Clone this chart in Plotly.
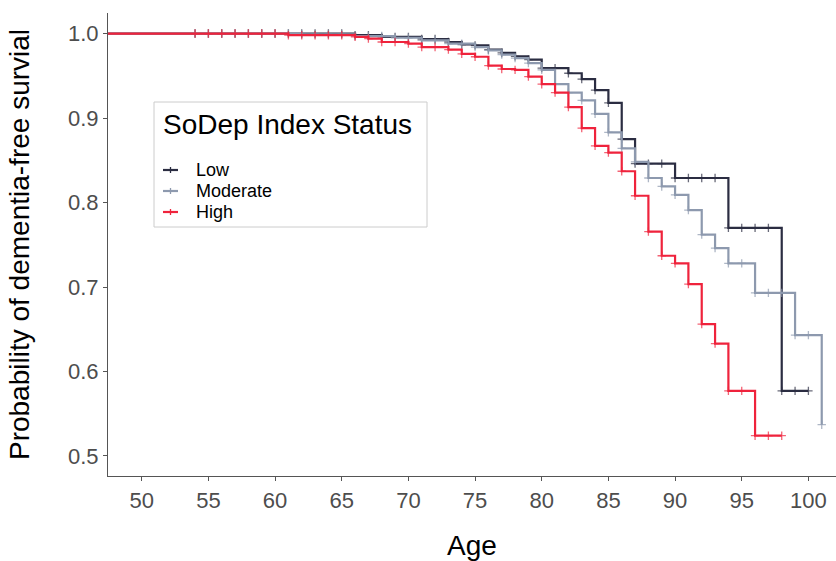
import plotly.graph_objects as go
import numpy as np

# ---- data ----
groups = ["Low", "Moderate", "High"]
colors = ["#2B2D42", "#8D99AE", "#EF233C"]
legend_title = "SoDep Index Status"

low_ages = [47, 66, 68, 71, 73, 74, 75, 76, 77, 78, 79, 80, 82, 83, 84, 85, 86, 87, 90, 94, 98]
low_surv = [1.0, 0.998, 0.996, 0.9935, 0.990, 0.987, 0.986, 0.981, 0.977, 0.973, 0.969, 0.959,
            0.953, 0.946, 0.933, 0.918, 0.875, 0.846, 0.829, 0.770, 0.577]
low_end = 100

mod_ages = [47, 62, 66, 69, 71, 73, 75, 76, 77, 78, 79, 80, 81, 82, 83, 84, 85, 86, 87, 88, 89,
            90, 91, 92, 93, 94, 96, 99, 101]
mod_surv = [1.0, 0.999, 0.997, 0.995, 0.992, 0.988, 0.984, 0.980, 0.975, 0.971, 0.965, 0.957,
            0.940, 0.930, 0.921, 0.905, 0.883, 0.864, 0.848, 0.829, 0.819, 0.809, 0.791, 0.762,
            0.746, 0.728, 0.693, 0.643, 0.537]
mod_end = 101

high_ages = [47, 61, 66, 67, 68, 70, 71, 73, 74, 75, 76, 77, 78, 79, 80, 81, 82, 83, 84, 85, 86,
             87, 88, 89, 90, 91, 92, 93, 94, 96]
high_surv = [1.0, 0.998, 0.996, 0.994, 0.990, 0.988, 0.984, 0.981, 0.976, 0.9725, 0.962, 0.958,
             0.957, 0.949, 0.940, 0.930, 0.913, 0.888, 0.867, 0.859, 0.837, 0.808, 0.7655, 0.737,
             0.728, 0.7035, 0.656, 0.633, 0.577, 0.524]
high_end = 98

censor_start = 54

series = [(low_ages, low_surv, low_end), (mod_ages, mod_surv, mod_end), (high_ages, high_surv, high_end)]

x_ticks = [50, 55, 60, 65, 70, 75, 80, 85, 90, 95, 100]
y_ticks = [0.5, 0.6, 0.7, 0.8, 0.9, 1.0]

FONT = "Liberation Sans, Arial, sans-serif"

fig = go.Figure()
for name, col, (ages, surv, end) in zip(groups, colors, series):
    ages = np.array(ages, dtype=float)
    surv = np.array(surv, dtype=float)
    censor = np.arange(censor_start, end + 1)
    t = np.unique(np.concatenate([ages, censor]))
    idx = np.searchsorted(ages, t, side="right") - 1
    s = surv[idx]
    sizes = [6 if (tt >= censor_start and float(tt).is_integer()) else 0 for tt in t]
    fig.add_trace(go.Scatter(
        x=t, y=s, name=name, mode="lines+markers", cliponaxis=False, showlegend=False,
        line=dict(color=col, width=2.2, shape="hv"),
        marker=dict(symbol="cross-thin", size=sizes, color=col,
                    line=dict(color=col, width=1.3)),
    ))

# ---- legend box (drawn in paper coordinates) ----
L, T, PW, PH = 108, 13, 728, 463          # plot area in pixels
px = lambda v: (v - L) / PW
py = lambda v: 1 - (v - T) / PH

shapes = [dict(type="rect", xref="paper", yref="paper",
               x0=px(154), x1=px(427), y0=py(227), y1=py(102),
               line=dict(color="#CCCCCC", width=1), fillcolor="white", layer="above")]
annotations = [dict(text=legend_title, xref="paper", yref="paper", x=px(161), y=py(125),
                    xanchor="left", yanchor="middle", showarrow=False,
                    font=dict(size=28, color="black", family=FONT))]
item_y = [170, 191, 212]
for name, col, iy in zip(groups, colors, item_y):
    shapes.append(dict(type="line", xref="paper", yref="paper", x0=px(163), x1=px(178),
                       y0=py(iy), y1=py(iy), line=dict(color=col, width=2.2), layer="above"))
    shapes.append(dict(type="line", xref="paper", yref="paper", x0=px(170.5), x1=px(170.5),
                       y0=py(iy + 3), y1=py(iy - 3), line=dict(color=col, width=1.3), layer="above"))
    annotations.append(dict(text=name, xref="paper", yref="paper", x=px(194), y=py(iy),
                            xanchor="left", yanchor="middle", showarrow=False,
                            font=dict(size=18, color="black", family=FONT)))

fig.update_layout(
    width=836, height=561,
    margin=dict(l=108, r=0, t=13, b=85),
    paper_bgcolor="white", plot_bgcolor="white",
    font=dict(family=FONT, color="black"),
    showlegend=False,
    shapes=shapes, annotations=annotations,
    xaxis=dict(
        range=[47.47, 102.07], tickvals=x_ticks, ticktext=[str(v) for v in x_ticks],
        showgrid=False, zeroline=False, showline=True, linecolor="#555555", linewidth=1.2,
        ticks="outside", ticklen=4, tickcolor="#555555",
        tickfont=dict(size=22, color="#4D4D4D"),
        title=dict(text="Age", font=dict(size=28, color="black"), standoff=30),
    ),
    yaxis=dict(
        range=[0.4763, 1.0243], tickvals=y_ticks, ticktext=[f"{v:.1f}" for v in y_ticks],
        showgrid=False, zeroline=False, showline=True, linecolor="#555555", linewidth=1.2,
        ticks="outside", ticklen=4, tickcolor="#555555",
        tickfont=dict(size=22, color="#4D4D4D"),
        title=dict(text="Probability of dementia-free survial", font=dict(size=28, color="black"), standoff=30),
    ),
)

fig.write_html("out.html", config={"displayModeBar": False},
               post_script="document.body.style.margin='0';document.body.style.padding='0';")
